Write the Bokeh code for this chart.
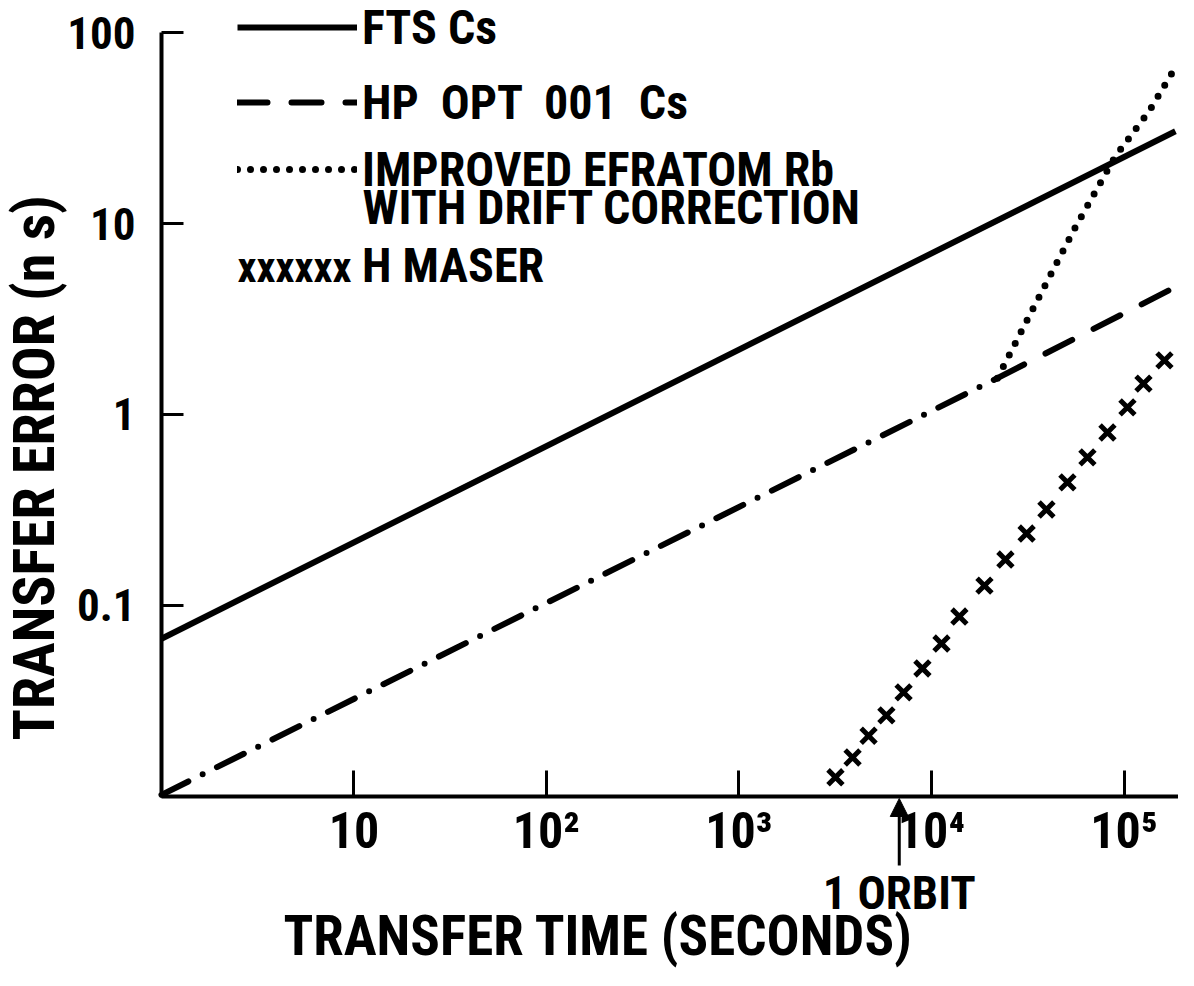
import glob
import subprocess

from bokeh.plotting import figure
from bokeh.models import (FixedTicker, Legend, LegendItem, Label, Arrow,
                          NormalHead, Range1d, LogAxis)
from bokeh.embed import file_html
from bokeh.resources import INLINE


def pick_font():
    fams = set()
    try:
        out = subprocess.run(["fc-list", ":", "family"], capture_output=True,
                             text=True, timeout=20).stdout
        for line in out.splitlines():
            for f in line.split(","):
                fams.add(f.strip())
    except Exception:
        pass
    files = " ".join(glob.glob("/usr/share/fonts/**/*.*", recursive=True)
                     + glob.glob("/usr/local/share/fonts/**/*.*", recursive=True))
    cands = [("Liberation Sans Narrow", "LiberationSansNarrow", 1.0),
             ("Roboto Condensed", "RobotoCondensed", 1.0),
             ("DejaVu Sans Condensed", "DejaVuSansCondensed", 0.9),
             ("Roboto", "Roboto-", 0.93)]
    for name, fname, scale in cands:
        if name in fams or fname in files:
            return name, scale
    return "DejaVu Sans", 0.85


FONT, SC = pick_font()


def px(v):
    return "%dpx" % round(v * SC)


# ---- data ----
fts_t = [1, 1.85e5]
fts_y = [0.067, 30.4]

hp_t = [1, 2.2e4, 1.7e5]
hp_y = [0.0102, 1.55, 4.45]

rb_t = [2.2e4, 3.47e4, 5.6e4, 9.0e4, 1.35e5, 1.83e5]
rb_y = [1.55, 3.8, 9.6, 22.4, 38.7, 64.6]

maser_t = [3170, 3890, 4710, 5830, 7160, 8970, 11270, 13960, 18840, 24210,
           31190, 39540, 50820, 64570, 82040, 104200, 126200, 162200]
maser_y = [0.0126, 0.0160, 0.0208, 0.0266, 0.0351, 0.0468, 0.0632, 0.0875,
           0.127, 0.174, 0.238, 0.318, 0.441, 0.596, 0.805, 1.09, 1.45, 1.92]

x_ticks = [10, 100, 1000, 10000, 100000]
x_tick_labels = ["10", "10²", "10³", "10⁴", "10⁵"]
y_ticks = [0.1, 1, 10, 100]
y_tick_labels = ["0.1", "1", "10", "100"]

x_axis_span = (1, 1.919e5)
y_axis_span = (0.01, 100)
orbit_t = 6.8e3

W, H = 1178, 970

# the frame covers the whole canvas; the axes sit at fixed data locations
p = figure(width=W, height=H, x_axis_type="log", y_axis_type="log",
           x_axis_location=None, y_axis_location=None,
           x_range=Range1d(0.1458, 1.919e5), y_range=Range1d(0.001227, 147.1),
           output_backend="svg", toolbar_location=None,
           min_border_left=0, min_border_right=0,
           min_border_top=0, min_border_bottom=0)
p.outline_line_color = None
p.background_fill_color = "white"
p.xgrid.visible = False
p.ygrid.visible = False

xa = LogAxis(fixed_location=y_axis_span[0], bounds=x_axis_span,
             ticker=FixedTicker(ticks=x_ticks, minor_ticks=[]))
ya = LogAxis(fixed_location=x_axis_span[0], bounds=y_axis_span,
             ticker=FixedTicker(ticks=y_ticks, minor_ticks=[]))
xa.major_label_overrides = dict(zip(x_ticks, x_tick_labels))
ya.major_label_overrides = dict(zip(y_ticks, y_tick_labels))
for ax in (xa, ya):
    ax.axis_line_width = 4
    ax.axis_line_color = "black"
    ax.major_tick_line_width = 3
    ax.major_tick_line_color = "black"
    ax.major_tick_out = 0
    ax.minor_tick_line_color = None
    ax.major_label_text_font = FONT
    ax.major_label_text_font_style = "bold"
    ax.major_label_text_color = "black"
xa.major_tick_in = 26
ya.major_tick_in = 22
xa.major_label_text_font_size = px(50)
ya.major_label_text_font_size = px(45)
xa.major_label_standoff = 6
ya.major_label_standoff = 26
p.add_layout(xa, "below")
p.add_layout(ya, "left")

# axis titles
p.add_layout(Label(x=598, y=H - 935, x_units="screen", y_units="screen",
                   text="TRANSFER TIME (SECONDS)", text_font=FONT,
                   text_font_style="bold", text_font_size=px(55),
                   text_align="center", text_baseline="middle",
                   text_color="black"))
p.add_layout(Label(x=33, y=H - 740, x_units="screen", y_units="screen",
                   angle=90, angle_units="deg",
                   text="TRANSFER ERROR (n s)", text_font=FONT,
                   text_font_style="bold", text_font_size=px(58),
                   text_align="left", text_baseline="middle",
                   text_color="black"))

# ---- series ----
fts = p.line(fts_t, fts_y, line_width=6, line_color="black")
hp_a = p.line(hp_t[:2], hp_y[:2], line_width=6, line_color="black",
              line_dash="30 16 0 16", line_cap="round")
hp_b = p.line(hp_t[1:], hp_y[1:], line_width=6, line_color="black",
              line_dash="30 24", line_cap="round")
rb = p.line(rb_t, rb_y, line_width=7, line_color="black",
            line_dash="0 13", line_cap="round")
maser = p.scatter(maser_t, maser_y, marker="x", size=21, line_width=5,
                  line_color="black")
dummy = p.scatter(x=[], y=[], marker="x", size=0, line_alpha=0)

ITEM_H = 60
LEG_FS = 48


def add_legend(label, renderer, center_y):
    lg = Legend(items=[LegendItem(label=label, renderers=[renderer])],
                location=(237, H - center_y - ITEM_H // 2))
    lg.label_text_font = FONT
    lg.label_text_font_style = "bold"
    lg.label_text_font_size = px(LEG_FS)
    lg.label_text_color = "black"
    lg.label_text_baseline = "middle"
    lg.label_standoff = 5
    lg.glyph_width = 120
    lg.glyph_height = ITEM_H
    lg.label_height = ITEM_H
    lg.padding = 0
    lg.margin = 0
    lg.spacing = 0
    lg.border_line_color = None
    lg.background_fill_alpha = 0
    p.add_layout(lg)


add_legend("FTS Cs", fts, 27)
add_legend("HP  OPT  001  Cs", hp_b, 102)
add_legend("IMPROVED EFRATOM Rb", rb, 169)
add_legend("H MASER", dummy, 265)

p.add_layout(Label(x=362, y=H - 207, x_units="screen", y_units="screen",
                   text="WITH DRIFT CORRECTION", text_font=FONT,
                   text_font_style="bold", text_font_size=px(LEG_FS),
                   text_baseline="middle", text_color="black"))
p.add_layout(Label(x=237, y=H - 267, x_units="screen", y_units="screen",
                   text="xxxxxx", text_font=FONT, text_font_style="bold",
                   text_font_size=px(42), text_baseline="middle",
                   text_color="black"))

# ---- 1 orbit marker ----
p.add_layout(Arrow(end=NormalHead(size=18, fill_color="black",
                                  line_color="black"),
                   x_start=orbit_t, y_start=0.00435,
                   x_end=orbit_t, y_end=0.00976,
                   line_width=3, line_color="black"))
p.add_layout(Label(x=orbit_t, y=H - 892, x_units="data", y_units="screen",
                   text="1 ORBIT", text_font=FONT, text_font_style="bold",
                   text_font_size=px(47), text_align="center",
                   text_baseline="middle", text_color="black"))

open("out.html", "w").write(file_html(p, INLINE))
